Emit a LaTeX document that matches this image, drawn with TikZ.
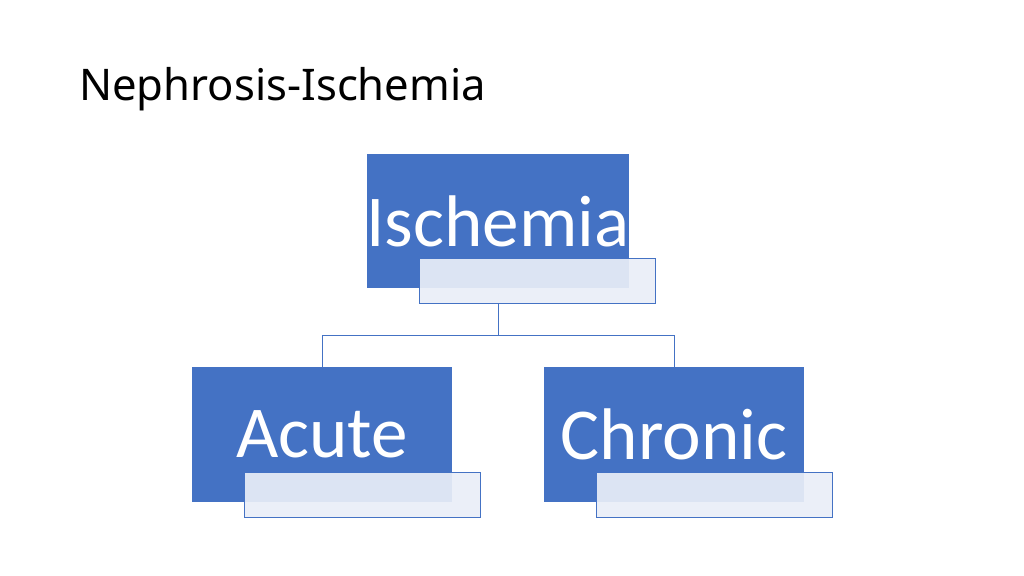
\documentclass[tikz,border=0pt]{standalone}
\usepackage{fontspec}
\setmainfont{Carlito}
\newfontfamily\titlefont{Noto Sans}
\definecolor{boxblue}{HTML}{4472C4}
\definecolor{boxpale}{HTML}{E9EEF7}
\begin{document}
\begin{tikzpicture}[x=0.025cm,y=-0.025cm,
  mainbox/.style={fill=boxblue, draw=none, minimum width=6.5cm, minimum height=3.35cm,
    text=white, font=\fontsize{52}{60}\selectfont, inner sep=0pt},
  subbox/.style={fill=boxpale, fill opacity=0.92, draw=boxblue, line width=0.6pt,
    minimum width=5.9cm, minimum height=1.125cm},
  link/.style={draw=boxblue, line width=0.6pt}]
	\useasboundingbox (0,0) rectangle (1024,575);
	
	%title
	\node[anchor=base west, font=\titlefont\fontsize{31}{36}\selectfont, inner sep=0pt] (title) at (79,100) {Nephrosis-Ischemia};
	
	%boxes
	\node[mainbox] (ischemia) at (498,221) {Ischemia};
	\node[subbox] (ischemia_s) at (537.5,280.5) {};
	\node[mainbox] (acute) at (322,434.5) {Acute};
	\node[subbox] (acute_s) at (362,494.5) {};
	\node[mainbox] (chronic) at (674,434.5) {Chronic};
	\node[subbox] (chronic_s) at (714,494.5) {};
	
	%connections
	\coordinate (split) at (498,335);
	\draw[link] (ischemia.south |- ischemia_s.south) -- (split);
	\draw[link] (split) -| (acute.north);
	\draw[link] (split) -| (chronic.north);
\end{tikzpicture}
\end{document}
